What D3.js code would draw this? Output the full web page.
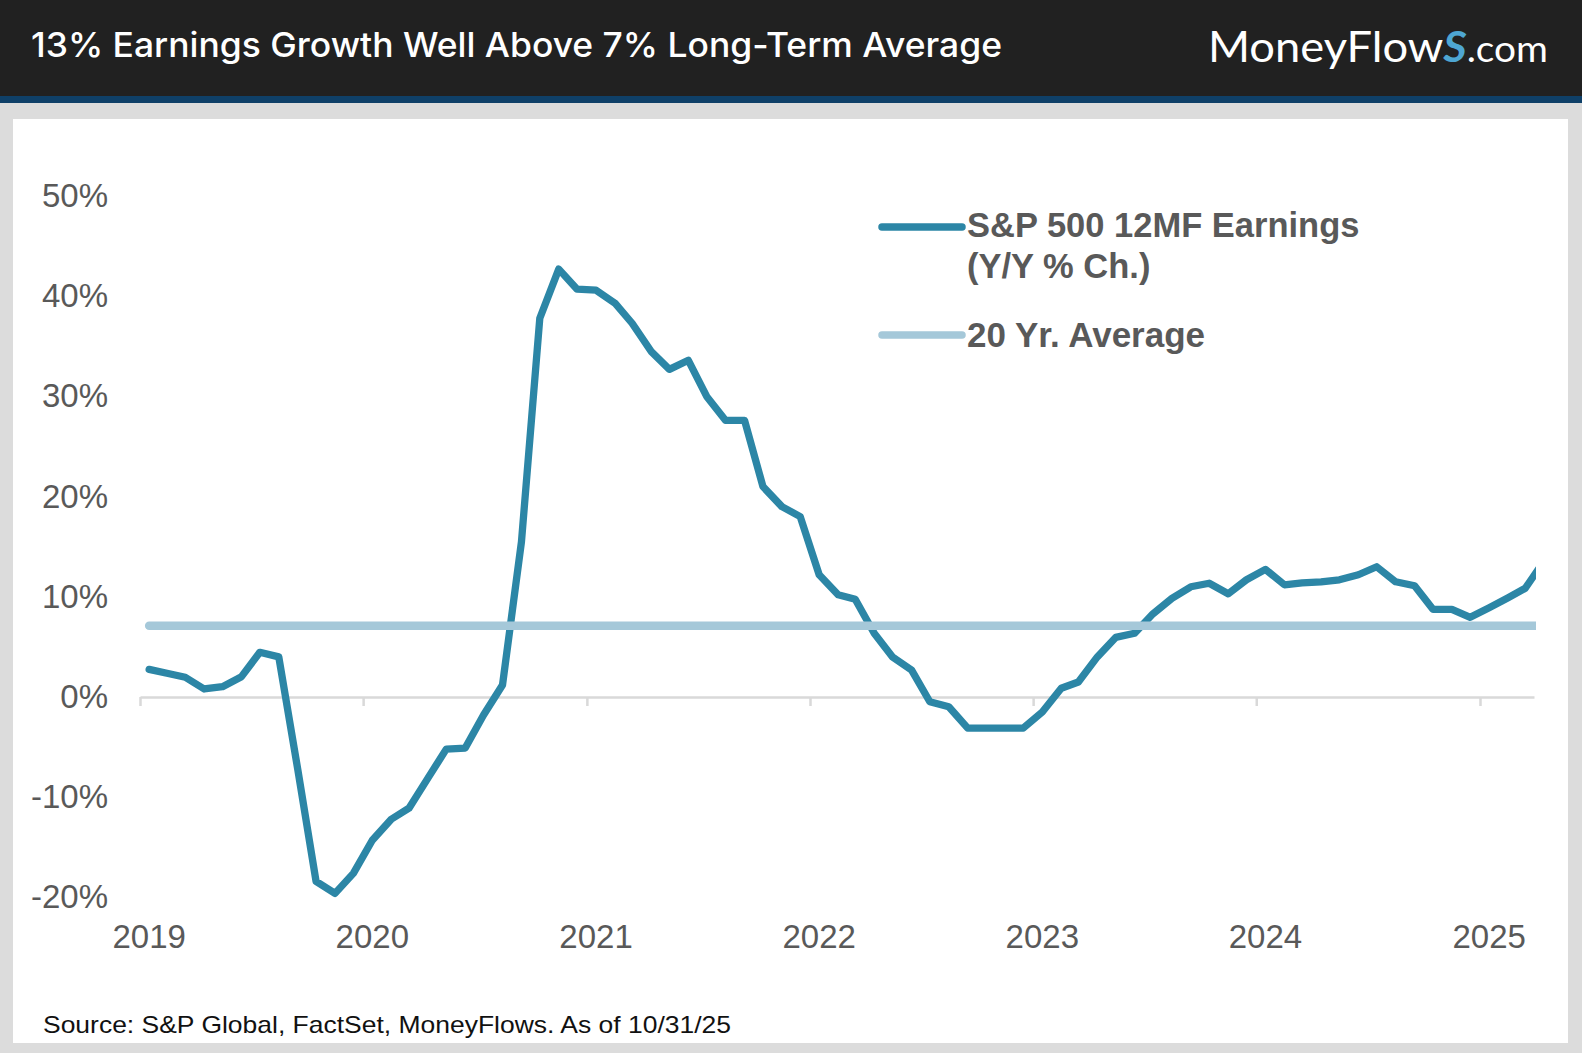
<!DOCTYPE html>
<html>
<head>
<meta charset="utf-8">
<script src="https://cdn.jsdelivr.net/npm/d3@7"></script>
<style>
  body { margin: 0; background: #dcdcdc; }
  svg { display: block; }
</style>
</head>
<body>
<div id="chart"></div>
<script>
// chart data (monthly, Jan 2019 onwards)
const title = "13% Earnings Growth Well Above 7% Long-Term Average";
const source = "Source: S&P Global, FactSet, MoneyFlows. As of 10/31/25";
const seriesName = ["S&P 500 12MF Earnings", "(Y/Y % Ch.)"];
const avgName = "20 Yr. Average";
const yearLabels = ["2019", "2020", "2021", "2022", "2023", "2024", "2025"];
const yTicks = [-20, -10, 0, 10, 20, 30, 40, 50];
const earningsGrowth = [
  2.76, 2.35, 1.97, 0.8, 1.03, 2.03, 4.46, 4.0, -7.2, -18.4, -19.6, -17.6,
  -14.3, -12.2, -11.1, -8.1, -5.2, -5.1, -1.8, 1.2, 15.5, 37.8, 42.7, 40.7,
  40.6, 39.3, 37.3, 34.5, 32.7, 33.6, 30.0, 27.6, 27.6, 21.0, 19.0, 18.0,
  12.2, 10.2, 9.75, 6.36, 4.0, 2.7, -0.47, -0.97, -3.1, -3.1, -3.1, -3.1,
  -1.5, 0.87, 1.5, 4.0, 5.95, 6.36, 8.3, 9.85, 11.0, 11.35, 10.3, 11.7,
  12.74, 11.2, 11.4, 11.5, 11.7, 12.2, 13.0, 11.5, 11.1, 8.75, 8.75, 7.95,
  8.9, 9.9, 10.85, 13.6
];
const avgGrowth = 7.1;

const width = 1582, height = 1053;
const darkBlue = "#2c86a6", lightBlue = "#a5c8d9", labelGrey = "#595959";

const svg = d3.select("#chart").append("svg")
  .attr("width", width)
  .attr("height", height);

// frame: dark header, blue rule, grey surround, white panel
svg.append("rect").attr("width", width).attr("height", height).attr("fill", "#dcdcdc");
svg.append("rect").attr("width", width).attr("height", 96).attr("fill", "#212121");
svg.append("rect").attr("y", 96).attr("width", width).attr("height", 7).attr("fill", "#0f4068");
svg.append("rect").attr("x", 13).attr("y", 119).attr("width", 1555).attr("height", 924).attr("fill", "#fff");

svg.append("text")
  .attr("x", 31).attr("y", 57)
  .attr("fill", "#fff")
  .style("font", "500 34px Inter, Roboto, sans-serif")
  .attr("textLength", 971)
  .attr("lengthAdjust", "spacingAndGlyphs")
  .text(title);

const logo = svg.append("text")
  .attr("x", 1208).attr("y", 62)
  .attr("fill", "#fff")
  .style("font", "400 42px Lato, 'Open Sans', sans-serif")
  .attr("textLength", 340)
  .attr("lengthAdjust", "spacingAndGlyphs");
logo.append("tspan").text("MoneyFlow");
logo.append("tspan").attr("fill", "#4ea6d2").style("font-style", "italic").style("font-weight", 700).text("S");
logo.append("tspan").style("font-size", "36px").text(".com");

// scales
const months = d3.timeMonth.range(new Date(2019, 0, 1), new Date(2019, earningsGrowth.length, 1))
  .map((d) => d3.timeDay.offset(d, 15));
const plotLeft = 140, plotRight = 1536;

const x = d3.scaleTime()
  .domain([new Date(2019, 0, 1), new Date(2025, 0, 1)])
  .range([plotLeft, 1480]);

const y = d3.scaleLinear()
  .domain([0, 50])
  .range([697, 196]);

// x axis: ticks on year starts, labels under mid-January
const xAxisScale = x.copy()
  .domain([x.domain()[0], x.invert(plotRight - 2)])
  .range([plotLeft, plotRight - 2]);
const yearStarts = yearLabels.map((d) => new Date(+d, 0, 1));

const xAxis = svg.append("g")
  .attr("transform", `translate(0,${y(0)})`)
  .call(d3.axisBottom(xAxisScale).tickValues(yearStarts).tickSize(9).tickSizeOuter(0).tickFormat(""));
xAxis.select(".domain").attr("stroke", "#d9d9d9").attr("stroke-width", 2.5);
xAxis.selectAll(".tick line").attr("stroke", "#d9d9d9").attr("stroke-width", 2.5);

svg.append("g")
  .selectAll("text")
  .data(yearLabels)
  .join("text")
  .attr("x", (d) => x(new Date(+d, 0, 16)))
  .attr("y", 948)
  .attr("text-anchor", "middle")
  .attr("fill", labelGrey)
  .style("font", "33px 'Liberation Sans', Arial, sans-serif")
  .text((d) => d);

// y axis: labels only
const yAxis = svg.append("g")
  .attr("transform", "translate(108,0)")
  .call(d3.axisLeft(y).tickValues(yTicks).tickSize(0).tickPadding(0).tickFormat((d) => d + "%"));
yAxis.select(".domain").remove();
yAxis.selectAll("text")
  .attr("fill", labelGrey)
  .style("font", "33px 'Liberation Sans', Arial, sans-serif");

// lines
svg.append("clipPath").attr("id", "plot-clip")
  .append("rect").attr("x", 100).attr("y", 150).attr("width", plotRight - 100).attr("height", 800);

const plot = svg.append("g").attr("clip-path", "url(#plot-clip)");

const line = d3.line()
  .x((d, i) => x(months[i]))
  .y((d) => y(d));

plot.append("path")
  .datum(earningsGrowth)
  .attr("d", line)
  .attr("fill", "none")
  .attr("stroke", darkBlue)
  .attr("stroke-width", 7.3)
  .attr("stroke-linejoin", "round")
  .attr("stroke-linecap", "round");

plot.append("path")
  .datum(earningsGrowth.map(() => avgGrowth))
  .attr("d", line)
  .attr("fill", "none")
  .attr("stroke", lightBlue)
  .attr("stroke-width", 8.5)
  .attr("stroke-linecap", "round");

// legend
const legend = svg.append("g")
  .style("font", "bold 34.5px 'Liberation Sans', Arial, sans-serif")
  .attr("fill", labelGrey);

legend.append("line")
  .attr("x1", 882).attr("x2", 962).attr("y1", 227).attr("y2", 227)
  .attr("stroke", darkBlue).attr("stroke-width", 7.5).attr("stroke-linecap", "round");
legend.append("text")
  .attr("x", 967).attr("y", 237)
  .selectAll("tspan")
  .data(seriesName)
  .join("tspan")
  .attr("x", 967)
  .attr("dy", (d, i) => (i ? 41 : 0))
  .text((d) => d);

legend.append("line")
  .attr("x1", 882).attr("x2", 962).attr("y1", 335).attr("y2", 335)
  .attr("stroke", lightBlue).attr("stroke-width", 7.5).attr("stroke-linecap", "round");
legend.append("text")
  .attr("x", 967).attr("y", 347)
  .style("font-size", "35px")
  .text(avgName);

svg.append("text")
  .attr("x", 43).attr("y", 1033)
  .attr("fill", "#111")
  .style("font", "24px 'Liberation Sans', Arial, sans-serif")
  .attr("textLength", 688)
  .attr("lengthAdjust", "spacingAndGlyphs")
  .text(source);
</script>
</body>
</html>
